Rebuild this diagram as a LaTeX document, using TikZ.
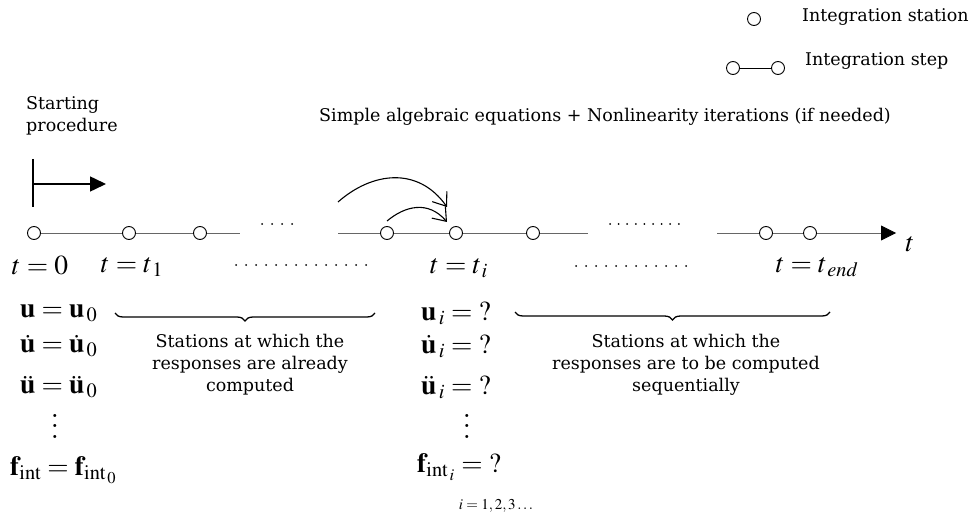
\documentclass[tikz,border=0pt]{standalone}
\usepackage{mathptmx}
\usepackage[no-math]{fontspec}
\setmainfont{DejaVu Serif}
\usetikzlibrary{arrows.meta,decorations.pathreplacing}
\begin{document}
\begin{tikzpicture}[x=1pt,y=-1pt,
 station/.style={circle,draw,fill=white,line width=0.9pt,minimum size=13pt,inner sep=0pt},
 axis/.style={draw=black!60,line width=0.8pt},
 txt/.style={font=\fontsize{17.5}{22}\selectfont,align=center,inner sep=0pt},
 eq/.style={font=\fontsize{27.5}{30}\selectfont,inner sep=0pt},
 eqs/.style={font=\fontsize{15}{16}\selectfont,inner sep=0pt},
 vd/.style={font=\fontsize{29}{10.5}\selectfont,align=center,inner sep=0pt},
 dotrow/.style={line width=2pt,line cap=round,dash pattern=on 0pt off 10pt},
 hbrace/.style={decorate,decoration={brace,mirror,amplitude=8pt},line width=1.3pt},
 curv/.style={line width=1.1pt,-{Straight Barb[length=12pt,width=18pt]}}]
\useasboundingbox (0,0) rectangle (977,513);

% legend
\node[station] (L1) at (754,19) {};
\node[txt,anchor=west] (L1t) at (802,17) {Integration station};
\node[station] (L2a) at (733,68) {};
\node[station] (L2b) at (778,68) {};
\draw[line width=0.9pt] (L2a) -- (L2b);
\node[txt,anchor=west] (L2t) at (805,61) {Integration step};

% titles
\node[txt,anchor=north west,align=left] (start) at (26,96) {Starting\\procedure};
\node[txt] (title) at (605,117) {Simple algebraic equations + Nonlinearity iterations (if needed)};

% starting procedure arrow
\coordinate (sp1) at (33,159);
\coordinate (sp2) at (33,207);
\coordinate (sa) at (33,184);
\coordinate (sb) at (106,184);
\draw[line width=1.5pt] (sp1) -- (sp2);
\draw[line width=1.5pt,-{Triangle[length=16pt,width=15pt]}] (sa) -- (sb);

% timeline
\coordinate (g1) at (240,233);
\coordinate (g2) at (338,233);
\coordinate (g3) at (588,233);
\coordinate (g4) at (717,233);
\coordinate (tip) at (896,233);
\node[station] (s0) at (34,233) {};
\node[station] (s1) at (129,233) {};
\node[station] (s2) at (200,233) {};
\node[station] (s3) at (387,233) {};
\node[station] (s4) at (456,233) {};
\node[station] (s5) at (533,233) {};
\node[station] (s6) at (766,233) {};
\node[station] (s7) at (810,233) {};
\draw[axis] (s0) -- (s1) (s1) -- (s2) (s2) -- (g1);
\draw[axis] (g2) -- (s3) (s3) -- (s4) (s4) -- (s5) (s5) -- (g3);
\draw[axis] (g4) -- (s6) (s6) -- (s7);
\draw[axis,-{Triangle[length=15pt,width=15pt,black]}] (s7) -- (tip);

% dot rows
\coordinate (d1a) at (262,224); \coordinate (d1b) at (294,224);
\coordinate (d2a) at (610,224); \coordinate (d2b) at (680,224);
\coordinate (d3a) at (236,265); \coordinate (d3b) at (368,265);
\coordinate (d4a) at (576,266); \coordinate (d4b) at (688,266);
\draw[dotrow] (d1a) -- (d1b);
\draw[dotrow,dash pattern=on 0pt off 8.6pt] (d2a) -- (d2b);
\draw[dotrow] (d3a) -- (d3b);
\draw[dotrow] (d4a) -- (d4b);

% curved arrows
\coordinate (ca) at (338,202);
\coordinate (cb) at (387,221);
\coordinate (ce1) at (447,207);
\coordinate (ce2) at (447,222);
\draw[curv] (ca) .. controls (372,172) and (418,166) .. (ce1);
\draw[curv] (cb) .. controls (405,206) and (428,200) .. (ce2);

% time labels
\node[eq] (t0) at (40,266) {$t=0$};
\node[eq] (t1) at (132,267) {$t=t_{\,1}$};
\node[eq] (ti) at (459,268) {$t=t_{\,i}$};
\node[eq] (tend) at (817,267) {$t=t_{\,end}$};
\node[eq] (tax) at (910,244) {$t$};

% left equations
\node[eq,anchor=west] (e1) at (20,313) {$\mathbf{u}=\mathbf{u}_{\,0}$};
\node[eq,anchor=west] (e2) at (20,346) {$\dot{\mathbf{u}}=\dot{\mathbf{u}}_{\,0}$};
\node[eq,anchor=west] (e3) at (20,387) {$\ddot{\mathbf{u}}=\ddot{\mathbf{u}}_{\,0}$};
\node[vd] (e4) at (55,426) {$\mathbf{.}$\\$\mathbf{.}$\\$\mathbf{.}$};
\node[eq,anchor=west] (e5) at (10,470) {$\mathbf{f}_{\mathrm{int}}=\mathbf{f}_{\mathrm{int}_{\,0}}$};

% right equations
\node[eq,anchor=west] (r1) at (421,313) {$\mathbf{u}_{\,i}={?}$};
\node[eq,anchor=west] (r2) at (421,346) {$\dot{\mathbf{u}}_{\,i}={?}$};
\node[eq,anchor=west] (r3) at (421,387) {$\ddot{\mathbf{u}}_{\,i}={?}$};
\node[vd] (r4) at (467,426) {$\mathbf{.}$\\$\mathbf{.}$\\$\mathbf{.}$};
\node[eq,anchor=west] (r5) at (417,467) {$\mathbf{f}_{\mathrm{int}_{\,i}}={?}$};
\node[eqs] (r6) at (496,506) {$i=1,2,3\ldots$};

% braces
\coordinate (b1a) at (115,313); \coordinate (b1b) at (375,313);
\coordinate (b2a) at (515,312); \coordinate (b2b) at (830,312);
\draw[hbrace] (b1a) -- (b1b);
\draw[hbrace] (b2a) -- (b2b);
\node[txt] (bt1) at (250,365) {Stations at which the\\responses are already\\computed};
\node[txt] (bt2) at (686,365) {Stations at which the\\responses are to be computed\\sequentially};
\end{tikzpicture}
\end{document}
